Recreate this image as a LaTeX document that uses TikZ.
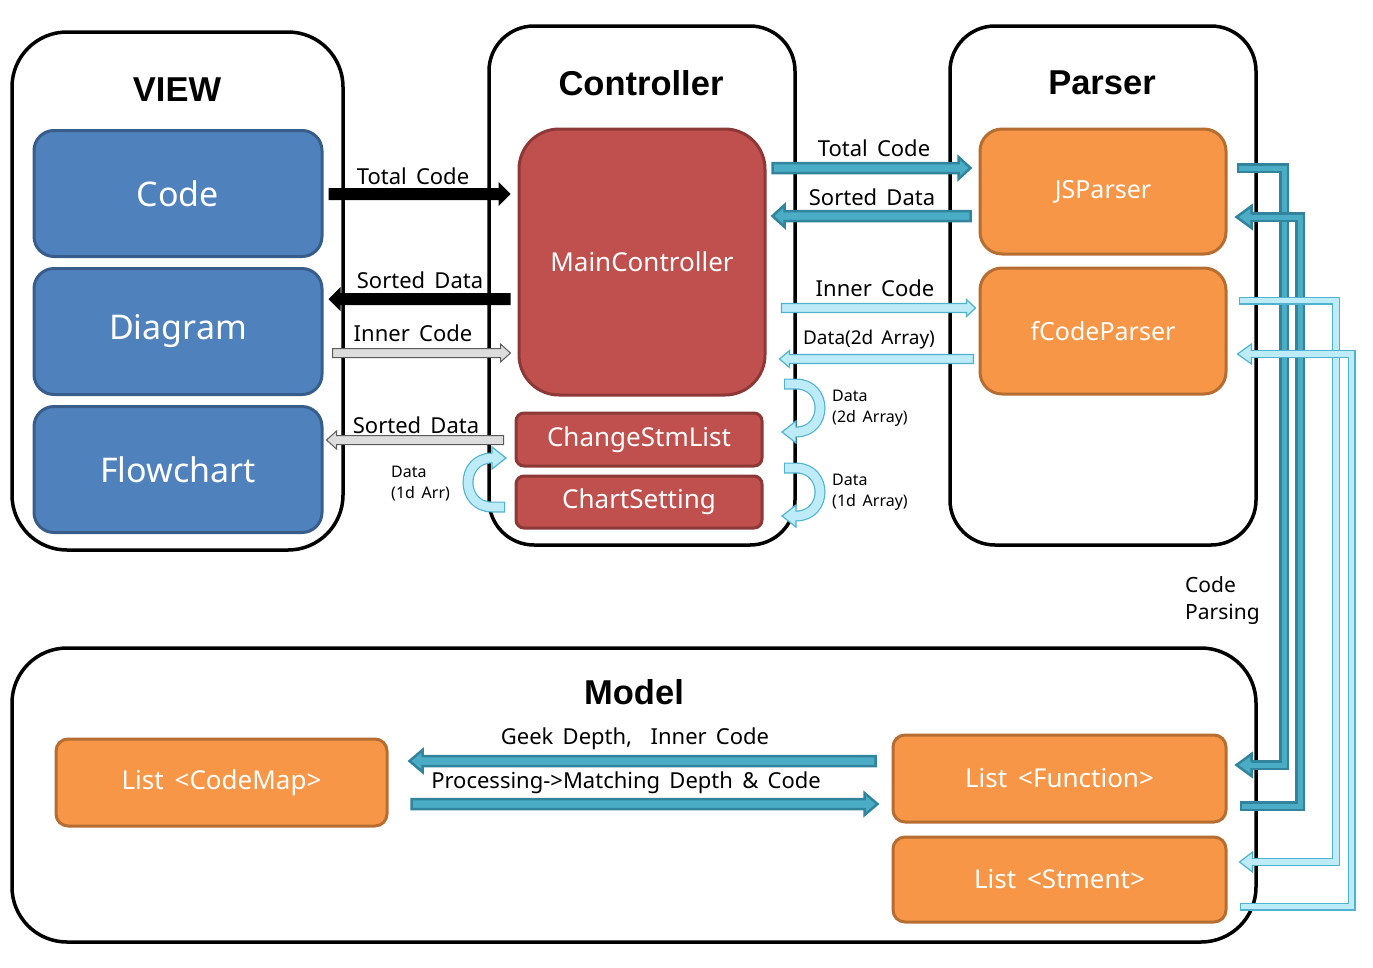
\documentclass[tikz,border=0pt]{standalone}
\usepackage{fontspec}
\setmainfont{Noto Sans}
\newfontfamily\titlefont{Liberation Sans}
\usetikzlibrary{calc}
\definecolor{bluef}{HTML}{4F81BD}
\definecolor{bluel}{HTML}{385D8A}
\definecolor{redf}{HTML}{C0504D}
\definecolor{redl}{HTML}{8C3836}
\definecolor{orf}{HTML}{F79646}
\definecolor{orl}{HTML}{B66D31}
\definecolor{tealf}{HTML}{4BACC6}
\definecolor{teall}{HTML}{31849B}
\definecolor{lightf}{HTML}{BDEBF8}
\definecolor{lightl}{HTML}{4FB3CF}
\definecolor{grayf}{HTML}{DDDDDD}
\definecolor{grayl}{HTML}{5A5A5A}
\newcommand\harrow[6]{%
  \path[#1] let \p1=(#2), \p2=(#3) in
   ({\x1},{\y1+#4}) -- ({\x2-(#6)},{\y1+#4}) -- ({\x2-(#6)},{\y1+#5}) -- ({\x2},{\y1})
   -- ({\x2-(#6)},{\y1-#5}) -- ({\x2-(#6)},{\y1-#4}) -- ({\x1},{\y1-#4}) -- cycle;}
\newcommand\hhead[5]{%
  \filldraw[#1] ($(#2)+(0,#4)$) -- ($(#2)+(0,#5)$) -- (#3) -- ($(#2)+(0,-#5)$) -- ($(#2)+(0,-#4)$);}
\newcommand\widesp{\spaceskip=0.42em plus 0.1em\relax}
\tikzset{
  container/.style={draw=black, line width=3.5pt, inner sep=0pt},
  ttl/.style={font=\titlefont\fontsize{34.5}{38}\selectfont\bfseries, inner sep=0pt},
  box/.style={line width=3pt, text=white, inner sep=0pt},
  viewbox/.style={box, fill=bluef, draw=bluel, rounded corners=20pt, minimum width=288pt, minimum height=126pt, font=\fontsize{34}{40}\selectfont},
  ctrlbox/.style={box, fill=redf, draw=redl, font=\fontsize{26}{30}\selectfont},
  parsebox/.style={box, fill=orf, draw=orl, rounded corners=22pt, minimum width=246pt, minimum height=125pt, font=\fontsize{25}{30}\selectfont},
  modelbox/.style={box, fill=orf, draw=orl, rounded corners=12pt, minimum height=86pt, font=\fontsize{26}{30}\selectfont\widesp},
  lbl/.style={font=\fontsize{22}{26}\selectfont\widesp, inner sep=0pt},
  smalllbl/.style={font=\fontsize{19}{22}\selectfont\widesp, inner sep=0pt},
  tinylbl/.style={font=\fontsize{16}{21}\selectfont\widesp, inner sep=0pt, align=left, anchor=west},
  blackarr/.style={fill=black},
  grayarr/.style={fill=grayf, draw=grayl, line width=1pt},
  tealarr/.style={fill=tealf, draw=teall, line width=2.5pt, line join=miter},
  lightarr/.style={fill=lightf, draw=lightl, line width=1.2pt},
  tealout/.style={draw=teall, line width=10pt, line join=miter},
  tealin/.style={draw=tealf, line width=5pt, line join=miter, shorten <=2.5pt},
  lightout/.style={draw=lightl, line width=8pt, line join=miter},
  lightin/.style={draw=lightf, line width=5.6pt, line join=miter, shorten <=1.5pt},
  curveout/.style={draw=lightl, line width=11pt},
  curvein/.style={draw=lightf, line width=8.6pt, shorten <=1.2pt},
}
\begin{document}
\begin{tikzpicture}[x=1pt,y=-1pt]
\useasboundingbox (0,0) rectangle (1373,967);
% containers
\node[container, rounded corners=55pt, minimum width=331pt, minimum height=518pt] (view) at (177.5,291) {};
\node[container, rounded corners=45pt, minimum width=306pt, minimum height=519pt] (ctrl) at (642,285.5) {};
\node[container, rounded corners=45pt, minimum width=306pt, minimum height=519pt] (parser) at (1103,285.5) {};
\node[container, rounded corners=55pt, minimum width=1244pt, minimum height=294pt] (model) at (634,795) {};
% titles
\node[ttl] (viewt) at (177,90) {VIEW};
\node[ttl] (ctrlt) at (641,83) {Controller};
\node[ttl] (parsert) at (1102,83) {Parser};
\node[ttl] (modelt) at (634,692) {Model};
% view boxes
\node[viewbox] (code) at (178,193.5) {Code};
\node[viewbox] (diagram) at (178,331.5) {Diagram};
\node[viewbox] (flowchart) at (178,469.5) {Flowchart};
% controller boxes
\node[ctrlbox, rounded corners=40pt, minimum width=246pt, minimum height=266pt] (main) at (642,262) {MainController};
\node[ctrlbox, rounded corners=8pt, minimum width=246pt, minimum height=53pt] (changestm) at (639,439.5) {ChangeStmList};
\node[ctrlbox, rounded corners=8pt, minimum width=246pt, minimum height=52pt] (chart) at (639,502) {ChartSetting};
% parser boxes
\node[parsebox] (js) at (1103,191.5) {JSParser};
\node[parsebox, minimum height=126pt] (fcode) at (1103,331) {fCodeParser};
% model boxes
\node[modelbox, minimum width=331pt, minimum height=87pt] (codemap) at (221.5,782.5) {List <CodeMap>};
\node[modelbox, minimum width=333pt, minimum height=87pt] (listfn) at (1059.5,778.5) {List <Function>};
\node[modelbox, minimum width=333pt, minimum height=85pt] (stm) at (1059.5,879.5) {List <Stment>};

% View <-> Controller arrows
\harrow{blackarr}{$(code.east)+(5,0.5)$}{$(main.west)+(-7,0)$}{6pt}{12pt}{12pt}
\harrow{blackarr}{$(main.west)+(-7,37)$}{$(diagram.east)+(5,0)$}{6pt}{12pt}{-12pt}
\harrow{grayarr}{$(diagram.east)+(9,21.5)$}{$(main.west)+(-7,0)$}{4.5pt}{9pt}{10pt}
\harrow{grayarr}{$(changestm.west)+(-11,0.5)$}{$(flowchart.east)+(3,0)$}{4.5pt}{9pt}{-10pt}
\node[lbl] (l1) at (413,176) {Total Code};
\node[lbl] (l2) at (420,280) {Sorted Data};
\node[lbl] (l3) at (413,333) {Inner Code};
\node[lbl] (l4) at (416,425) {Sorted Data};

% Controller <-> Parser arrows
\harrow{tealarr}{$(main.east)+(6,-94)$}{$(js.west)+(-8,0)$}{5pt}{11pt}{12pt}
\harrow{tealarr}{$(js.west)+(-8,24.5)$}{$(main.east)+(6,0)$}{5pt}{11pt}{-12pt}
\harrow{lightarr}{$(main.east)+(15,46)$}{$(fcode.west)+(-3,0)$}{4.5pt}{8.5pt}{9pt}
\harrow{lightarr}{$(fcode.west)+(-5,28)$}{$(main.east)+(13,0)$}{4.5pt}{8.5pt}{-10pt}
\node[lbl] (l5) at (874,148) {Total Code};
\node[lbl] (l6) at (872,197) {Sorted Data};
\node[lbl] (l7) at (875,288) {Inner Code};
\node[smalllbl] (l8) at (869,340) {Data(2d Array)};

% curved self arrows
\coordinate (c1s) at (784,384); \coordinate (c1h) at (796,432); \coordinate (c1t) at (782,432);
\draw[curveout] (c1s) -- ++(12,0) .. controls +(32,0) and +(32,0) .. (c1h);
\draw[curvein] (c1s) -- ++(12,0) .. controls +(32,0) and +(32,0) .. (c1h);
\hhead{lightarr}{c1h}{c1t}{4.3}{11}
\coordinate (c2s) at (784,468); \coordinate (c2h) at (796,516); \coordinate (c2t) at (782,516);
\draw[curveout] (c2s) -- ++(12,0) .. controls +(32,0) and +(32,0) .. (c2h);
\draw[curvein] (c2s) -- ++(12,0) .. controls +(32,0) and +(32,0) .. (c2h);
\hhead{lightarr}{c2h}{c2t}{4.3}{11}
\coordinate (c3s) at (505,507); \coordinate (c3h) at (492,458); \coordinate (c3t) at (506,458);
\draw[curveout] (c3s) -- ++(-13,0) .. controls +(-32,0) and +(-32,0) .. (c3h);
\draw[curvein] (c3s) -- ++(-13,0) .. controls +(-32,0) and +(-32,0) .. (c3h);
\hhead{lightarr}{c3h}{c3t}{4.3}{11}
\node[tinylbl] (d1) at (832,408) {Data\\(2d Array)};
\node[tinylbl] (d2) at (832,492) {Data\\(1d Array)};
\node[tinylbl] (d3) at (391,484) {Data\\(1d Arr)};

% Parser <-> Model bent connectors
\coordinate (b1s) at ($(js.east)+(9,-23.5)$);
\coordinate (b1h) at ($(listfn.east)+(24,-13.5)$);
\coordinate (b1t) at ($(listfn.east)+(9,-13.5)$);
\coordinate (v1) at (1284,500);
\draw[tealout] (b1s) -- (b1s -| v1) -- (v1 |- b1h) -- ($(b1h)+(-1,0)$);
\draw[tealin] (b1s) -- (b1s -| v1) -- (v1 |- b1h) -- ($(b1h)+(-1,0)$);
\hhead{tealarr}{b1h}{b1t}{3}{11}

\coordinate (b2s) at ($(listfn.east)+(12,27.5)$);
\coordinate (b2h) at ($(js.east)+(24,25.5)$);
\coordinate (b2t) at ($(js.east)+(9,25.5)$);
\coordinate (v2) at (1300,500);
\draw[tealout] (b2s) -- (b2s -| v2) -- (v2 |- b2h) -- ($(b2h)+(-1,0)$);
\draw[tealin] (b2s) -- (b2s -| v2) -- (v2 |- b2h) -- ($(b2h)+(-1,0)$);
\hhead{tealarr}{b2h}{b2t}{3}{11}

\coordinate (b3s) at ($(fcode.east)+(11,-30.5)$);
\coordinate (b3h) at ($(stm.east)+(25,-17.5)$);
\coordinate (b3t) at ($(stm.east)+(12,-17.5)$);
\coordinate (v3) at (1336,500);
\draw[lightout] (b3s) -- (b3s -| v3) -- (v3 |- b3h) -- ($(b3h)+(-1,0)$);
\draw[lightin] (b3s) -- (b3s -| v3) -- (v3 |- b3h) -- ($(b3h)+(-1,0)$);
\hhead{lightarr}{b3h}{b3t}{2.8}{10}

\coordinate (b4s) at ($(stm.east)+(12,27)$);
\coordinate (b4h) at ($(fcode.east)+(24,23)$);
\coordinate (b4t) at ($(fcode.east)+(10,23)$);
\coordinate (v4) at (1351.5,500);
\draw[lightout] (b4s) -- (b4s -| v4) -- (v4 |- b4h) -- ($(b4h)+(-1,0)$);
\draw[lightin] (b4s) -- (b4s -| v4) -- (v4 |- b4h) -- ($(b4h)+(-1,0)$);
\hhead{lightarr}{b4h}{b4t}{2.8}{10}

\node[font=\fontsize{21}{27}\selectfont, inner sep=0pt, align=left, anchor=west] (cp) at (1185,601) {Code\\Parsing};

% Model arrows
\harrow{tealarr}{$(listfn.west)+(-16,-17.5)$}{$(codemap.east)+(21,0)$}{5pt}{11pt}{-13pt}
\harrow{tealarr}{$(codemap.east)+(23,21.5)$}{$(listfn.west)+(-14,0)$}{5pt}{11pt}{13pt}
\node[lbl] (l9) at (635,739) {Geek Depth,\ \ Inner Code};
\node[lbl] (l10) at (626,783) {Processing->Matching Depth \& Code};
\end{tikzpicture}
\end{document}
